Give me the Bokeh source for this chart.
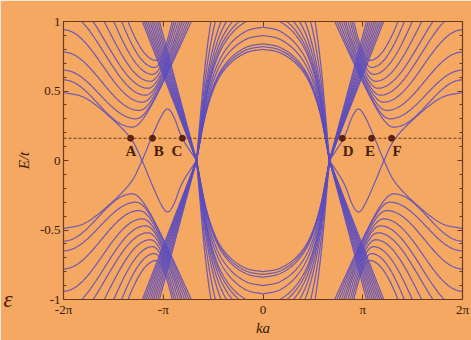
import numpy as np
from bokeh.plotting import figure
from bokeh.models import FixedTicker, LinearAxis, Span, ColumnDataSource, Range1d
from bokeh.core.properties import value
from bokeh.embed import file_html
from bokeh.resources import INLINE

PI = np.pi

# ---------------- values (left half, E >= 0) ----------------
K_DIRAC = -2.094          # gapless crossing of the dense fan (ka)
E_F = 0.16                # dashed Fermi line

# gapped U-shaped subbands near ka ~ -4
u_min_ka = [-4.12, -4.00, -3.90, -3.80, -3.70, -3.62, -3.55, -3.48, -3.42, -3.36]
u_min_E = [0.24, 0.30, 0.36, 0.42, 0.47, 0.52, 0.57, 0.62, 0.67, 0.72]
u_edge_E = [0.58, 0.65, 0.78, 0.94]                       # value at ka=-2pi (first four)
u_left_top_ka = [-5.71, -5.35, -5.00, -4.70, -4.45, -4.25]  # where the others leave E=1
u_right_top_ka = [-2.26, -2.33, -2.40, -2.47, -2.54, -2.60, -2.67, -2.74, -2.80, -2.86]

# dense linear fan leaving the Dirac crossing to the left (where it reaches E=1)
fan_top_ka = [-3.80, -3.74, -3.68, -3.62, -3.56, -3.50, -3.44, -3.38, -3.32, -3.26]

# central domes: apex at ka=0 (visible ones) and top crossings (the higher ones)
dome_apex_E = [0.80, 0.82, 0.84, 0.90, 0.96]
dome_top_ka = [-0.53, -0.75, -0.96, -1.15, -1.32, -1.50, -1.64]
dome_u = [0.0, 0.25, 0.50, 0.70, 0.86, 1.0]      # |ka| / |K|
dome_D = [1.0, 0.97, 0.87, 0.70, 0.42, 0.0]      # relative height

# thin edge-state line through A (mirrored copies give B..F lines)
edge_ka = [-6.283, -5.6, -4.85, -4.17, -3.81, -3.50, -3.20, -3.00, -2.80, -2.54, -2.094]
edge_E = [0.49, 0.45, 0.32, 0.16, 0.0, -0.17, -0.32, -0.37, -0.31, -0.16, 0.0]

# labelled points on the Fermi line
pt_names = ["A", "B", "C", "D", "E", "F"]
pt_ka = [-4.17, -3.48, -2.54, 2.50, 3.42, 4.05]
lbl_ka = [-4.16, -3.28, -2.71, 2.68, 3.37, 4.22]
lbl_E = [0.065] * 6

x_ticks = [-2 * PI, -PI, 0, PI, 2 * PI]
x_tick_labels = ["-2π", "-π", "0", "π", "2π"]
y_ticks = [-1, -0.5, 0, 0.5, 1]
y_tick_labels = ["-1", "-0.5", "0", "0.5", "1"]
corner_glyph = "ε"          # cut-off glyph at the lower-left edge of the picture

# ---------------- helpers ----------------
def catmull(xs, ys, n=24):
    pts = np.column_stack([xs, ys]).astype(float)
    P = np.vstack([2 * pts[0] - pts[1], pts, 2 * pts[-1] - pts[-2]])
    out = []
    t = np.linspace(0, 1, n, endpoint=False)[:, None]
    for i in range(1, len(P) - 2):
        p0, p1, p2, p3 = P[i - 1], P[i], P[i + 1], P[i + 2]
        seg = 0.5 * ((2 * p1) + (-p0 + p2) * t + (2 * p0 - 5 * p1 + 4 * p2 - p3) * t ** 2
                     + (-p0 + 3 * p1 - 3 * p2 + p3) * t ** 3)
        out.append(seg)
    out.append(pts[-1][None, :])
    o = np.vstack(out)
    return o[:, 0], o[:, 1]


def u_curve(km, Em, EL, ktop):
    L = km + 2 * PI
    kl = np.linspace(-2 * PI, km, 70)
    s = (1 - np.cos(PI * (km - kl) / L)) / 2
    el = Em + (EL - Em) * s
    v = np.sqrt(1 - Em ** 2) / (ktop - km)
    kr = np.linspace(km, ktop + 0.5, 70)[1:]
    er = np.sqrt(Em ** 2 + (v * (kr - km)) ** 2)
    return np.concatenate([kl, kr]), np.concatenate([el, er])


quad_curves = []
# U subbands
for i, (km, Em, kt) in enumerate(zip(u_min_ka, u_min_E, u_right_top_ka)):
    if i < len(u_edge_E):
        EL = u_edge_E[i]
    else:
        ktl = u_left_top_ka[i - len(u_edge_E)]
        L = km + 2 * PI
        s = (1 - np.cos(PI * (km - ktl) / L)) / 2
        EL = Em + (1 - Em) / s
    quad_curves.append(u_curve(km, Em, EL, kt))
# dense fan
for kt in fan_top_ka:
    quad_curves.append((np.array([K_DIRAC, kt - 0.3 * (K_DIRAC - kt)]), np.array([0.0, 1.3])))
# edge-state line
quad_curves.append(catmull(edge_ka, edge_E))

xs, ys = [], []
for kx, ey in quad_curves:
    for sx in (1, -1):
        for sy in (1, -1):
            xs.append(list(sx * kx))
            ys.append(list(sy * ey))

# domes (span the centre)
du, dD = catmull(dome_u, dome_D, 30)
order = np.argsort(du)
du, dD = du[order], dD[order]
heights = list(dome_apex_E)
for kt in dome_top_ka:
    heights.append(1.0 / np.interp(abs(kt / K_DIRAC), du, dD))
kd = np.concatenate([-du[::-1], du[1:]]) * abs(K_DIRAC)
Dd = np.concatenate([dD[::-1], dD[1:]])
for h in heights:
    for sy in (1, -1):
        xs.append(list(kd))
        ys.append(list(sy * h * Dd))

# ---------------- figure ----------------
BG = "#F4A862"
FRAME = "#6b3a1e"
TXT = "#3a1a08"
LINE = "#5a4cc0"
SERIF = "Liberation Serif"

p = figure(width=471, height=340, x_range=Range1d(-2 * PI, 2 * PI), y_range=Range1d(-1, 1),
           output_backend="svg", toolbar_location=None,
           min_border_left=63, min_border_right=9, min_border_top=21, min_border_bottom=41)
p.background_fill_color = BG
p.border_fill_color = BG
p.outline_line_color = FRAME
p.outline_line_width = 1.2
p.grid.visible = False

p.multi_line(xs, ys, line_color=LINE, line_width=1.25, line_alpha=0.85)

p.add_layout(Span(location=E_F, dimension="width", line_color="#6b3a1e",
                  line_dash="3 2", line_width=1.2))

src = ColumnDataSource(dict(x=pt_ka, y=[E_F] * 6))
p.scatter("x", "y", source=src, size=6, fill_color="#5a1e10", line_color="#5a1e10")
lsrc = ColumnDataSource(dict(x=lbl_ka, y=lbl_E, t=pt_names))
p.text("x", "y", text="t", source=lsrc, text_font=value(SERIF), text_font_size="15px",
       text_font_style="bold", text_color="#4a2008", text_align="center", text_baseline="middle")

xt = FixedTicker(ticks=x_ticks, minor_ticks=[])
yt = FixedTicker(ticks=y_ticks, minor_ticks=[round(-1 + 0.1 * i, 2) for i in range(21)])

for ax in (p.xaxis[0], p.yaxis[0]):
    ax.major_tick_in = 5
    ax.major_tick_out = 0
    ax.minor_tick_in = 3
    ax.minor_tick_out = 0
    ax.axis_line_color = FRAME
    ax.major_tick_line_color = FRAME
    ax.minor_tick_line_color = FRAME
    ax.major_label_text_font = SERIF
    ax.major_label_text_font_size = "13px"
    ax.major_label_text_color = TXT
    ax.axis_label_text_font = SERIF
    ax.axis_label_text_font_size = "15px"
    ax.axis_label_text_font_style = "italic"
    ax.axis_label_text_color = TXT

p.xaxis[0].ticker = xt
p.xaxis[0].major_label_overrides = {t: l for t, l in zip(x_ticks, x_tick_labels)}
p.xaxis[0].axis_label = "ka"
p.xaxis[0].major_label_standoff = 2
p.xaxis[0].axis_label_standoff = 0
p.yaxis[0].ticker = yt
p.yaxis[0].major_label_overrides = {t: l for t, l in zip(y_ticks, y_tick_labels)}
p.yaxis[0].axis_label = "E/t"
p.yaxis[0].major_label_standoff = 3
p.yaxis[0].axis_label_standoff = 5

for loc, tk, ticks in (("above", xt, x_ticks), ("right", yt, y_ticks)):
    ax = LinearAxis(ticker=tk)
    ax.major_tick_in = 5
    ax.major_tick_out = 0
    ax.minor_tick_in = 3
    ax.minor_tick_out = 0
    ax.axis_line_color = FRAME
    ax.major_tick_line_color = FRAME
    ax.minor_tick_line_color = FRAME
    ax.major_label_overrides = {t: "" for t in ticks}
    ax.major_label_standoff = 0
    p.add_layout(ax, loc)

# outer invisible axis carrying the cut-off glyph at the lower-left edge
gax = LinearAxis(ticker=FixedTicker(ticks=[-1.0], minor_ticks=[]))
gax.axis_line_color = None
gax.major_tick_line_color = None
gax.minor_tick_line_color = None
gax.major_tick_in = 0
gax.major_tick_out = 0
gax.major_label_standoff = 0
gax.major_label_overrides = {-1.0: corner_glyph}
gax.major_label_text_font = SERIF
gax.major_label_text_font_size = "23px"
gax.major_label_text_font_style = "italic"
gax.major_label_text_color = "#4a2008"
p.add_layout(gax, "left")

open("out.html", "w").write(file_html(p, INLINE))
